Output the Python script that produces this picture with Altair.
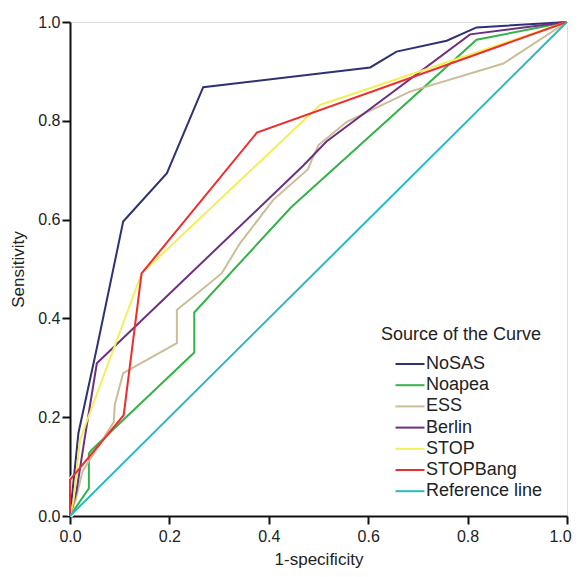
import altair as alt
import pandas as pd

series_names = ["NoSAS", "Noapea", "ESS", "Berlin", "STOP", "STOPBang", "Reference line"]
series_colors = ["#2e3272", "#35b249", "#c9be97", "#6d2f80", "#f2ee5c", "#ee2d2d", "#2cb8c0"]

nosas_x = [0, 0.017, 0.054, 0.107, 0.195, 0.268, 0.604, 0.657, 0.758, 0.818, 1]
nosas_y = [0, 0.168, 0.34, 0.596, 0.694, 0.868, 0.908, 0.940, 0.962, 0.989, 1]

noapea_x = [0, 0.038, 0.038, 0.044, 0.25, 0.25, 0.445, 0.818, 1]
noapea_y = [0, 0.056, 0.127, 0.134, 0.331, 0.412, 0.625, 0.964, 1]

ess_x = [0, 0.012, 0.025, 0.088, 0.09, 0.107, 0.215, 0.215, 0.305, 0.342, 0.409, 0.479, 0.486, 0.5, 0.557, 0.684, 0.872, 1]
ess_y = [0, 0.035, 0.09, 0.19, 0.225, 0.289, 0.35, 0.417, 0.491, 0.552, 0.64, 0.702, 0.72, 0.751, 0.798, 0.859, 0.916, 1]

berlin_x = [0, 0.013, 0.03, 0.054, 0.47, 0.516, 0.805, 1]
berlin_y = [0, 0.05, 0.16, 0.309, 0.71, 0.758, 0.975, 1]

stop_x = [0, 0.007, 0.02, 0.144, 0.503, 1]
stop_y = [0, 0.03, 0.154, 0.491, 0.832, 1]

stopbang_x = [0, 0, 0.108, 0.144, 0.376, 1]
stopbang_y = [0, 0.073, 0.204, 0.491, 0.776, 1]

ref_x = [0, 1]
ref_y = [0, 1]

tick_values = [0, 0.2, 0.4, 0.6, 0.8, 1.0]

all_x = [nosas_x, noapea_x, ess_x, berlin_x, stop_x, stopbang_x, ref_x]
all_y = [nosas_y, noapea_y, ess_y, berlin_y, stop_y, stopbang_y, ref_y]

rows = []
for name, xs, ys in zip(series_names, all_x, all_y):
    for i, (xv, yv) in enumerate(zip(xs, ys)):
        rows.append({"series": name, "fx": xv, "fy": yv, "i": i})
df = pd.DataFrame(rows)

font = "Liberation Sans"

x_enc = alt.X("fx:Q", scale=alt.Scale(domain=[0, 1], nice=False, zero=False),
              axis=alt.Axis(title="1-specificity", values=tick_values, format=".1f",
                            grid=False, domainColor="#111", domainWidth=2, tickColor="#111", tickWidth=2,
                            tickSize=8, labelFontSize=16, labelColor="#222", labelFont=font,
                            labelPadding=4, titleFontSize=17, titleFontWeight="normal", titleColor="#222",
                            titleFont=font, titlePadding=7, labelFlush=False,
                            labelOffset={"condition": {"test": "datum.value >= 1", "value": -7}, "value": 0}))
y_enc = alt.Y("fy:Q", scale=alt.Scale(domain=[0, 1], nice=False, zero=False),
              axis=alt.Axis(title="Sensitivity", values=tick_values, format=".1f",
                            grid=False, domainColor="#111", domainWidth=2, tickColor="#111", tickWidth=2,
                            tickSize=8, labelFontSize=16, labelColor="#222", labelFont=font,
                            labelPadding=2, titleFontSize=17, titleFontWeight="normal", titleColor="#222",
                            titleFont=font, titlePadding=10, labelFlush=False))

halo = alt.Chart(df).mark_line(color="white", strokeWidth=4.5, opacity=0.85).encode(
    x=x_enc, y=y_enc, detail="series:N", order="i:Q"
)

lines = alt.Chart(df).mark_line(strokeWidth=2).encode(
    x=x_enc, y=y_enc, order="i:Q",
    color=alt.Color("series:N", sort=series_names,
                    scale=alt.Scale(domain=series_names, range=series_colors),
                    legend=alt.Legend(title="Source of the Curve", orient="none", legendX=297, legendY=290,
                                      fillColor="white", padding=14, titleFontSize=18,
                                      titleFontWeight="normal", titleColor="#222", titleFont=font,
                                      titlePadding=11, labelFontSize=18, labelColor="#222", labelFont=font,
                                      symbolType="M-2,0H2", symbolSize=210, symbolStrokeWidth=2,
                                      symbolOffset=20, labelOffset=7, rowPadding=3.2,
                                      labelLimit=300)),
)

chart = alt.layer(halo, lines).properties(
    width=497, height=494,
    autosize=alt.AutoSizeParams(type="none"),
    padding={"left": 62, "top": 14, "right": 5, "bottom": 53},
).configure_view(
    fill="#ebebeb", stroke="#333", strokeWidth=2
).configure(background="white")

chart.save("out.html", embed_options={"renderer": "svg", "actions": False})
